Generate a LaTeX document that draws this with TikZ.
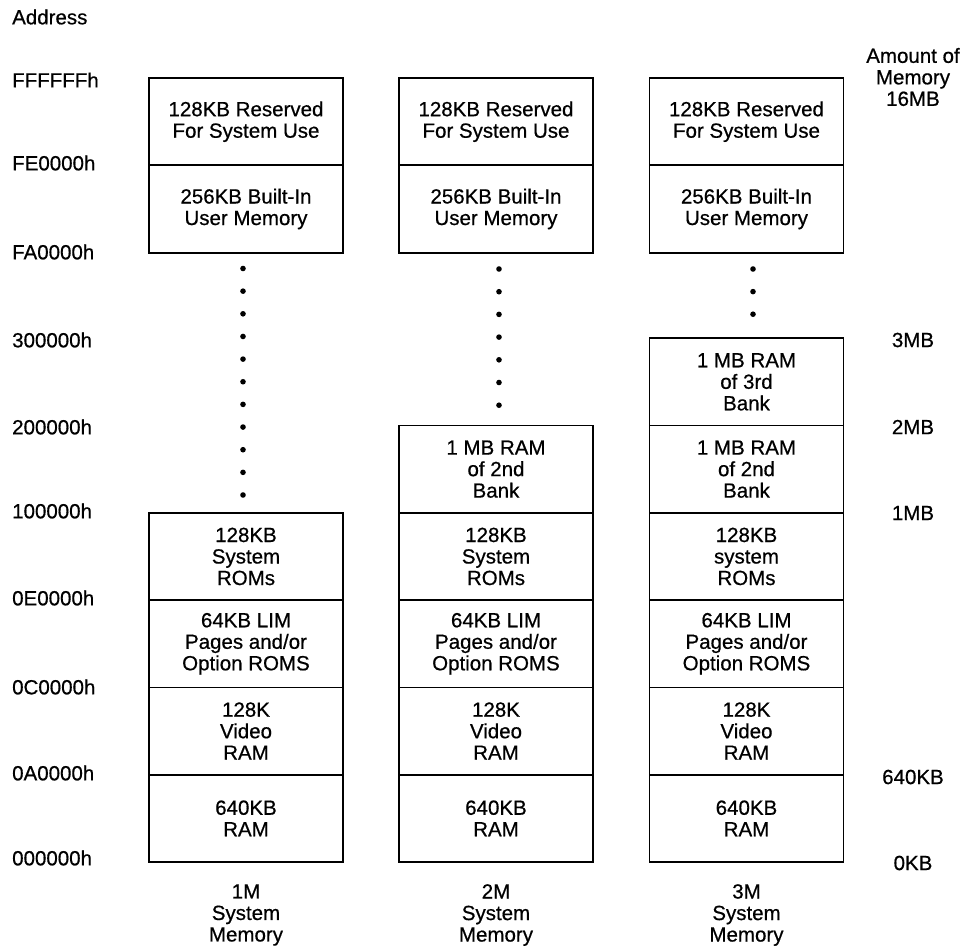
\documentclass[tikz,border=0pt]{standalone}
\usepackage{fontspec}
\setmainfont[FakeBold=0.6]{Liberation Sans}
\newcommand\memfont{\fontsize{20.5}{21.5}\selectfont}
\begin{document}
\begin{tikzpicture}[x=1pt,y=-1pt,
  mem/.style={draw, line width=1.8pt, minimum width=194pt, minimum height=87.3pt,
    inner sep=0pt, align=center, font=\memfont},
  lab/.style={inner sep=0pt, font=\memfont, align=center},
  addr/.style={lab, anchor=west},
  memdot/.style={fill=black}
]
\useasboundingbox (0,0) rectangle (964,951);

% address labels
\node[addr] (aAddr) at (12,17) {Address};
\node[addr] (aFFF) at (12,80) {FFFFFFh};
\node[addr] (aFE) at (12,163) {FE0000h};
\node[addr] (aFA) at (12,252) {FA0000h};
\node[addr] (a30) at (12,340) {300000h};
\node[addr] (a20) at (12,427) {200000h};
\node[addr] (a10) at (12,511) {100000h};
\node[addr] (a0E) at (12,598) {0E0000h};
\node[addr] (a0C) at (12,687) {0C0000h};
\node[addr] (a0A) at (12,773) {0A0000h};
\node[addr] (a00) at (12,858) {000000h};

% amount labels
\node[lab] (mAmt) at (913,77) {Amount of\\Memory\\16MB};
\node[lab] (m3) at (913,340) {3MB};
\node[lab] (m2) at (913,427) {2MB};
\node[lab] (m1) at (913,513) {1MB};
\node[lab] (m640) at (913,777) {640KB};
\node[lab] (m0) at (913,863) {0KB};

% columns
\foreach \c/\x in {1/246,2/496,3/746.5}{
  \node[mem] (c\c top) at (\x,121.65) {128KB Reserved\\For System Use};
  \node[mem] (c\c usr) at (\x,208.95) {256KB Built-In\\User Memory};
  \node[mem] (c\c lim) at (\x,643.75) {64KB LIM\\Pages and/or\\Option ROMS};
  \node[mem] (c\c vid) at (\x,731.05) {128K\\Video\\RAM};
  \node[mem] (c\c ram) at (\x,818.35) {640KB\\RAM};
}
\node[mem] (c1rom) at (246,556.45) {128KB\\System\\ROMs};
\node[mem] (c2rom) at (496,556.45) {128KB\\System\\ROMs};
\node[mem] (c3rom) at (746.5,556.45) {128KB\\system\\ROMs};
\node[mem] (c2bank2) at (496,469.15) {1 MB RAM\\of 2nd\\Bank};
\node[mem] (c3bank2) at (746.5,469.15) {1 MB RAM\\of 2nd\\Bank};
\node[mem] (c3bank3) at (746.5,381.85) {1 MB RAM\\of 3rd\\Bank};

% column captions
\node[lab] (cap1) at (246,915) {1M\\System\\Memory};
\node[lab] (cap2) at (496,915) {2M\\System\\Memory};
\node[lab] (cap3) at (746.5,915) {3M\\System\\Memory};

% dots
\foreach \i in {0,...,10} \fill[memdot] (243,268.5+\i*22.65) circle (2.8pt);
\foreach \i in {0,...,6} \fill[memdot] (499,269+\i*22.7) circle (2.8pt);
\foreach \i in {0,...,2} \fill[memdot] (753,269+\i*22.6) circle (2.8pt);
\end{tikzpicture}
\end{document}
